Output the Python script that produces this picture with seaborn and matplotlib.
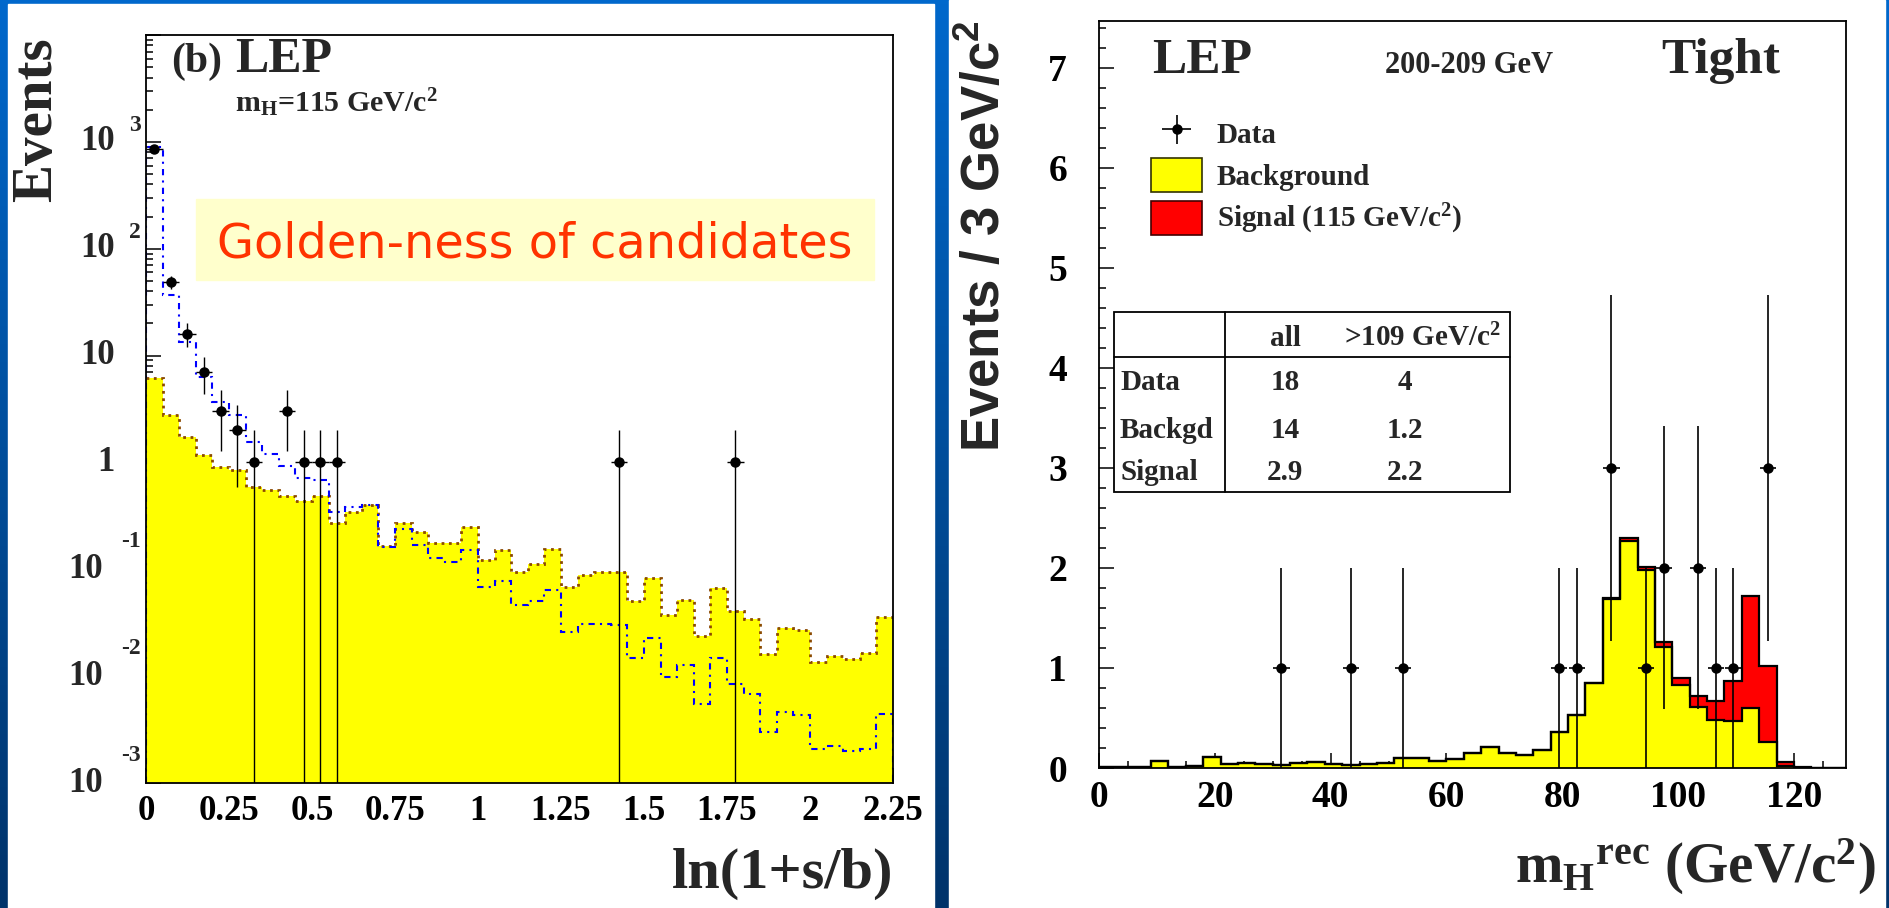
import numpy as np
import seaborn as sns
import matplotlib
import matplotlib.pyplot as plt
from matplotlib.patches import Rectangle, Patch
from matplotlib.lines import Line2D
from matplotlib.colors import LinearSegmentedColormap
from matplotlib.ticker import MultipleLocator, LogLocator, NullFormatter

# ---------------- left panel: ln(1+s/b) ----------------
lsb_edges = list(np.linspace(0, 2.25, 46))
lsb_background = [6.2, 2.8, 1.74, 1.18, 0.91, 0.85, 0.59, 0.55, 0.49, 0.44,
                  0.48, 0.27, 0.34, 0.40, 0.166, 0.27, 0.225, 0.177, 0.177, 0.25,
                  0.122, 0.152, 0.095, 0.113, 0.155, 0.069, 0.089, 0.095, 0.095, 0.05,
                  0.082, 0.037, 0.052, 0.024, 0.067, 0.041, 0.034, 0.016, 0.028, 0.027,
                  0.0135, 0.0154, 0.0145, 0.0165, 0.036]
lsb_signal = [890, 37, 13.3, 6.3, 3.7, 2.8, 1.55, 1.19, 0.93, 0.72,
              0.68, 0.34, 0.38, 0.40, 0.16, 0.24, 0.17, 0.127, 0.116, 0.153,
              0.068, 0.078, 0.046, 0.051, 0.064, 0.026, 0.031, 0.031, 0.030, 0.0147,
              0.0228, 0.0098, 0.0128, 0.0055, 0.0147, 0.0085, 0.0068, 0.003, 0.0046, 0.0043,
              0.0021, 0.0022, 0.002, 0.0021, 0.0044]
lsb_data_x = [0.025, 0.075, 0.125, 0.175, 0.225, 0.275, 0.325, 0.425, 0.475, 0.525, 0.575, 1.425, 1.775]
lsb_data_n = [850, 49, 16, 7, 3, 2, 1, 3, 1, 1, 1, 1, 1]
lsb_xticks = [0, 0.25, 0.5, 0.75, 1, 1.25, 1.5, 1.75, 2, 2.25]
lsb_xticklabels = ["0", "0.25", "0.5", "0.75", "1", "1.25", "1.5", "1.75", "2", "2.25"]
lsb_decades = [-3, -2, -1, 0, 1, 2, 3]

# ---------------- right panel: reconstructed mass ----------------
mass_edges = list(np.arange(0, 130, 3))
mass_background = [0.005, 0.005, 0.005, 0.07, 0.013, 0.02, 0.11, 0.037, 0.047, 0.037,
                   0.027, 0.047, 0.057, 0.037, 0.03, 0.04, 0.053, 0.097, 0.1, 0.065,
                   0.085, 0.15, 0.205, 0.145, 0.132, 0.183, 0.355, 0.53, 0.85, 1.69,
                   2.27, 1.98, 1.21, 0.83, 0.61, 0.475, 0.47, 0.60, 0.255, 0.015,
                   0.004, 0.002, 0.001]
mass_signal = [0, 0, 0, 0, 0, 0, 0, 0, 0, 0,
               0, 0, 0, 0, 0, 0, 0, 0, 0, 0,
               0, 0, 0, 0, 0, 0, 0, 0, 0, 0.01,
               0.03, 0.03, 0.05, 0.07, 0.11, 0.195, 0.40, 1.12, 0.765, 0.04,
               0.006, 0, 0]
mass_data_x = [31.5, 43.5, 52.5, 79.5, 82.5, 88.5, 94.5, 97.5, 103.5, 106.5, 109.5, 115.5]
mass_data_n = [1, 1, 1, 1, 1, 3, 1, 2, 2, 1, 1, 3]
mass_xticks = [0, 20, 40, 60, 80, 100, 120]
mass_yticks = [0, 1, 2, 3, 4, 5, 6, 7]

table_rows = ["Data", "Backgd", "Signal"]
table_all = ["18", "14", "2.9"]
table_high = ["4", "1.2", "2.2"]

W, H = 1890, 908
PT = 100 / 72  # px per point


def setup():
    sns.set_style("ticks")
    plt.rcParams["font.family"] = ["Liberation Serif", "DejaVu Serif"]
    plt.rcParams["font.weight"] = "bold"
    plt.rcParams["mathtext.default"] = "regular"
    plt.rcParams["axes.linewidth"] = 1.3
    plt.rcParams["axes.edgecolor"] = "black"


def style_ticks(ax, size):
    ax.tick_params(which="both", direction="in", color="black", width=1.1,
                   top=False, right=False, labelsize=size, labelcolor="black")
    ax.tick_params(which="major", length=10.8)
    ax.tick_params(which="minor", length=5)
    for s in ax.spines.values():
        s.set_color("black")
        s.set_linewidth(1.3)


setup()
fig = plt.figure(figsize=(W / 100, H / 100), dpi=100)

# slide background
bg = fig.add_axes([0, 0, 1, 1], zorder=-5)
grad = np.linspace(0, 1, 256)[:, None]
bg.imshow(grad, aspect="auto", extent=(0, W, H, 0),
          cmap=LinearSegmentedColormap.from_list("slide", ["#0068cc", "#00336a"]))
bg.add_patch(Rectangle((8, 4), 926, 904, color="white"))
bg.add_patch(Rectangle((949, 0), 936, 908, color="white"))
bg.set_xlim(0, W)
bg.set_ylim(H, 0)
bg.axis("off")


def ptext(x, y, s, **kw):
    return fig.text(x, y, s, transform=bg.transData, **kw)


# ================= left panel =================
ax1 = fig.add_axes([146 / W, 1 - 783 / H, 747 / W, 748 / H])
ax1.set_facecolor("none")
centers = [(a + b) / 2 for a, b in zip(lsb_edges[:-1], lsb_edges[1:])]
sns.histplot(x=centers, weights=lsb_background, bins=lsb_edges, element="step",
             fill=True, color="#ffff00", alpha=1, linewidth=0, ax=ax1)
ax1.set_yscale("log")
ax1.stairs(lsb_background, lsb_edges, baseline=None, color="#8b4a00",
           linestyle=":", linewidth=2.0)
ax1.stairs(lsb_signal, lsb_edges, baseline=1e-3, color="#0000ff",
           linestyle=(0, (3, 2.5, 1, 2.5)), linewidth=1.5)
n = np.array(lsb_data_n, dtype=float)
err = np.sqrt(n)
ax1.errorbar(lsb_data_x, n, yerr=[np.minimum(err, n), err], xerr=0.025,
             fmt="o", color="black", ms=6.5, elinewidth=1.0, capsize=0, zorder=5)
ax1.set_xlim(0, 2.25)
ax1.set_ylim(1e-3, 1e4)
ax1.set_xlabel("")
ax1.set_ylabel("")
ax1.set_xticks(lsb_xticks, lsb_xticklabels)
ax1.xaxis.set_minor_locator(MultipleLocator(0.05))
ax1.yaxis.set_major_locator(LogLocator(base=10, numticks=20))
ax1.yaxis.set_minor_locator(LogLocator(base=10, subs=np.arange(2, 10), numticks=20))
ax1.yaxis.set_major_formatter(NullFormatter())
ax1.yaxis.set_minor_formatter(NullFormatter())
style_ticks(ax1, 25)
ax1.tick_params(axis="x", pad=8.6)

# ROOT-style "10 ^n" labels
for d in lsb_decades:
    if d in (0, 1):
        base, expo = ("1" if d == 0 else "10"), None
    else:
        base, expo = "10", str(d)
    shift = -31 if (expo is None or d > 0) else -43
    ax1.annotate(base, xy=(0, 10.0 ** d), xycoords=("axes fraction", "data"),
                 xytext=(shift / PT, 0), textcoords="offset points",
                 ha="right", va="center", fontsize=25, annotation_clip=False)
    if expo:
        up = 6 if d > 0 else 17
        ax1.annotate(expo, xy=(0, 10.0 ** d), xycoords=("axes fraction", "data"),
                     xytext=(-5 / PT, up / PT), textcoords="offset points",
                     ha="right", va="bottom", fontsize=17, annotation_clip=False)

ptext(37, 37, "Events", rotation=90, ha="center", va="top", fontsize=41)
ptext(222, 72, "(b)", ha="right", va="baseline", fontsize=30)
ptext(235, 72, "LEP", ha="left", va="baseline", fontsize=36)
ptext(235, 112, "m$_{H}$=115 GeV/c$^{2}$", ha="left", va="baseline", fontsize=21.5)
fig.add_artist(Rectangle((196, 199), 678, 81, color="#ffffcc", transform=bg.transData))
ptext(535, 258, "Golden-ness of candidates", ha="center", va="baseline",
      fontsize=34.5, color="#ff3300", family="DejaVu Sans", weight="normal")
ptext(893, 888, "ln(1+s/b)", ha="right", va="baseline", fontsize=42)

# ================= right panel =================
ax2 = fig.add_axes([1099 / W, 1 - 768 / H, 747 / W, 747.3 / H])
ax2.set_facecolor("none")
mcent = [(a + b) / 2 for a, b in zip(mass_edges[:-1], mass_edges[1:])]
mass_total = list(np.add(mass_background, mass_signal))
sns.histplot(x=mcent, weights=mass_total, bins=mass_edges, element="step",
             fill=True, color="#ff0000", alpha=1, linewidth=0, ax=ax2)
sns.histplot(x=mcent, weights=mass_background, bins=mass_edges, element="step",
             fill=True, color="#ffff00", alpha=1, linewidth=0, ax=ax2)
ax2.stairs(mass_total, mass_edges, color="black", linewidth=1.6)
ax2.stairs(mass_background, mass_edges, color="black", linewidth=1.6)
mn = np.array(mass_data_n, dtype=float)
merr = np.sqrt(mn)
data_handle = ax2.errorbar(mass_data_x, mn, yerr=[np.minimum(merr, mn), merr], xerr=1.4,
                           fmt="o", color="black", ms=6.5, elinewidth=1.2, capsize=0,
                           zorder=5, label="Data")
ax2.set_xlim(0, 129)
ax2.set_ylim(0, 7.47)
ax2.set_xlabel("")
ax2.set_ylabel("")
ax2.set_xticks(mass_xticks, [str(v) for v in mass_xticks])
ax2.set_yticks(mass_yticks, [str(v) for v in mass_yticks])
ax2.xaxis.set_minor_locator(MultipleLocator(5))
ax2.yaxis.set_minor_locator(MultipleLocator(0.2))
style_ticks(ax2, 27)
ax2.tick_params(axis="x", pad=8.6)
ax2.tick_params(axis="y", pad=23)

handles = [data_handle,
           Patch(facecolor="#ffff00", edgecolor="#333300", linewidth=1.2),
           Patch(facecolor="#ff0000", edgecolor="#440000", linewidth=1.2)]
labels = ["Data", "Background", "Signal (115 GeV/c$^{2}$)"]
ax2.legend(handles, labels, loc="upper left", bbox_to_anchor=(0.0696, 0.8725),
           frameon=False, fontsize=21, handlelength=1.75, handleheight=1.4,
           handletextpad=0.5, labelspacing=0.3, borderpad=0, borderaxespad=0)

ptext(985, 20, "Events / 3 GeV/c$^{2}$", rotation=90, ha="center", va="top",
      fontsize=38, family="Liberation Sans")
ptext(1152, 73, "LEP", ha="left", va="baseline", fontsize=37)
ptext(1385, 73, "200-209 GeV", ha="left", va="baseline", fontsize=22)
ptext(1661, 73, "Tight", ha="left", va="baseline", fontsize=37)
ptext(1876, 883, "m$_{H}$$^{rec}$ (GeV/c$^{2}$)", ha="right", va="baseline", fontsize=41)

# summary table
fig.add_artist(Rectangle((1114, 312), 396, 180, facecolor="white", edgecolor="black",
                         linewidth=1.3, transform=bg.transData))
fig.add_artist(Line2D([1225, 1225], [312, 492], color="black", lw=1.3, transform=bg.transData))
fig.add_artist(Line2D([1114, 1510], [357, 357], color="black", lw=1.3, transform=bg.transData))
ptext(1285, 338, "all", ha="center", va="center", fontsize=21)
ptext(1422, 338, ">109 GeV/c$^{2}$", ha="center", va="center", fontsize=21)
for ry, lab, a, h in zip([383, 430, 473], table_rows, table_all, table_high):
    ptext(1120, ry, lab, ha="left", va="center", fontsize=21)
    ptext(1285, ry, a, ha="center", va="center", fontsize=21)
    ptext(1405, ry, h, ha="center", va="center", fontsize=21)

fig.savefig("out.png", dpi=100)
